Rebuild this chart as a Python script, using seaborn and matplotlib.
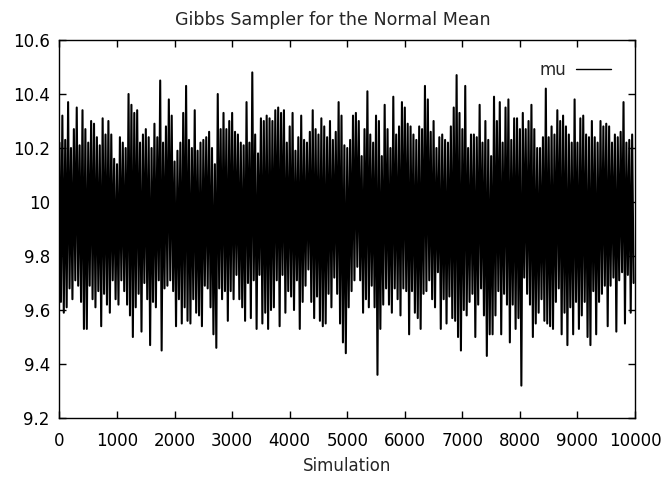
import numpy as np
import pandas as pd
import matplotlib
matplotlib.use("Agg")
import matplotlib.pyplot as plt
import seaborn as sns
from matplotlib.ticker import FormatStrFormatter
from matplotlib.lines import Line2D

# ============================================
# Data: upper and lower swings of the mu trace
# (left to right over 10000 Gibbs iterations, 50 per quarter)
# ============================================

mu_high = [
    # 0 - 2500
    10.22, 10.32, 10.23, 10.37, 10.20, 10.27, 10.35, 10.21, 10.34, 10.27,
    10.22, 10.30, 10.29, 10.24, 10.21, 10.31, 10.25, 10.30, 10.25, 10.16,
    10.14, 10.24, 10.22, 10.20, 10.40, 10.36, 10.33, 10.34, 10.22, 10.25,
    10.27, 10.24, 10.20, 10.29, 10.24, 10.45, 10.22, 10.28, 10.38, 10.32,
    10.15, 10.19, 10.22, 10.33, 10.43, 10.23, 10.20, 10.34, 10.19, 10.22,
    # 2500 - 5000
    10.23, 10.24, 10.26, 10.20, 10.14, 10.40, 10.27, 10.33, 10.27, 10.30,
    10.33, 10.26, 10.25, 10.22, 10.21, 10.37, 10.22, 10.48, 10.25, 10.18,
    10.31, 10.30, 10.32, 10.31, 10.30, 10.34, 10.35, 10.33, 10.34, 10.22,
    10.28, 10.33, 10.19, 10.24, 10.32, 10.23, 10.22, 10.26, 10.34, 10.27,
    10.25, 10.31, 10.28, 10.24, 10.30, 10.23, 10.26, 10.37, 10.32, 10.21,
    # 5000 - 7500
    10.20, 10.23, 10.32, 10.33, 10.30, 10.17, 10.27, 10.41, 10.25, 10.22,
    10.32, 10.30, 10.17, 10.36, 10.27, 10.20, 10.39, 10.25, 10.28, 10.37,
    10.35, 10.29, 10.28, 10.25, 10.23, 10.28, 10.27, 10.43, 10.38, 10.26,
    10.30, 10.20, 10.24, 10.25, 10.23, 10.22, 10.28, 10.35, 10.47, 10.33,
    10.27, 10.43, 10.20, 10.25, 10.25, 10.24, 10.36, 10.22, 10.30, 10.23,
    # 7500 - 10000
    10.17, 10.39, 10.30, 10.37, 10.22, 10.35, 10.38, 10.23, 10.31, 10.31,
    10.27, 10.33, 10.27, 10.30, 10.36, 10.27, 10.20, 10.20, 10.24, 10.42,
    10.24, 10.28, 10.25, 10.34, 10.30, 10.32, 10.28, 10.25, 10.22, 10.38,
    10.22, 10.31, 10.32, 10.25, 10.24, 10.30, 10.24, 10.22, 10.30, 10.28,
    10.29, 10.28, 10.22, 10.25, 10.24, 10.26, 10.37, 10.22, 10.23, 10.25,
]

mu_low = [
    # 0 - 2500
    9.63, 9.59, 9.61, 9.68, 9.64, 9.71, 9.69, 9.63, 9.53, 9.53,
    9.69, 9.64, 9.61, 9.67, 9.54, 9.66, 9.62, 9.59, 9.71, 9.64,
    9.62, 9.71, 9.67, 9.62, 9.58, 9.50, 9.61, 9.66, 9.52, 9.70,
    9.64, 9.47, 9.63, 9.61, 9.71, 9.45, 9.68, 9.69, 9.71, 9.67,
    9.54, 9.64, 9.55, 9.61, 9.56, 9.55, 9.64, 9.59, 9.58, 9.54,
    # 2500 - 5000
    9.69, 9.68, 9.61, 9.51, 9.46, 9.68, 9.64, 9.67, 9.56, 9.67,
    9.64, 9.73, 9.64, 9.61, 9.56, 9.70, 9.57, 9.71, 9.53, 9.73,
    9.55, 9.59, 9.53, 9.60, 9.61, 9.71, 9.54, 9.73, 9.59, 9.67,
    9.65, 9.60, 9.71, 9.53, 9.63, 9.69, 9.75, 9.63, 9.57, 9.65,
    9.56, 9.54, 9.55, 9.66, 9.61, 9.72, 9.66, 9.55, 9.48, 9.44,
    # 5000 - 7500
    9.61, 9.67, 9.71, 9.76, 9.71, 9.59, 9.64, 9.61, 9.69, 9.61,
    9.36, 9.53, 9.62, 9.68, 9.62, 9.59, 9.68, 9.64, 9.58, 9.68,
    9.67, 9.51, 9.67, 9.59, 9.57, 9.53, 9.66, 9.67, 9.71, 9.64,
    9.61, 9.74, 9.53, 9.64, 9.55, 9.65, 9.57, 9.56, 9.50, 9.45,
    9.60, 9.58, 9.63, 9.66, 9.50, 9.62, 9.68, 9.58, 9.43, 9.51,
    # 7500 - 10000
    9.51, 9.58, 9.67, 9.51, 9.66, 9.62, 9.48, 9.62, 9.53, 9.57,
    9.32, 9.72, 9.66, 9.62, 9.50, 9.55, 9.59, 9.64, 9.56, 9.55,
    9.54, 9.53, 9.63, 9.68, 9.51, 9.59, 9.47, 9.61, 9.51, 9.63,
    9.53, 9.58, 9.63, 9.50, 9.47, 9.67, 9.51, 9.63, 9.66, 9.69,
    9.54, 9.69, 9.72, 9.52, 9.71, 9.74, 9.55, 9.73, 9.59, 9.70,
]

y_ticks = [9.2, 9.4, 9.6, 9.8, 10.0, 10.2, 10.4, 10.6]
x_ticks = [0, 1000, 2000, 3000, 4000, 5000, 6000, 7000, 8000, 9000, 10000]

# ============================================
# Build the trace: highs and lows alternate along the iterations
# ============================================

n_iter = 10000
step = n_iter / len(mu_high)
hi = pd.DataFrame({"Simulation": np.arange(len(mu_high)) * step, "mu": mu_high})
lo = pd.DataFrame({"Simulation": (np.arange(len(mu_low)) + 0.5) * step, "mu": mu_low})
df = pd.concat([hi, lo]).sort_values("Simulation").reset_index(drop=True)

# ============================================
# Plot
# ============================================

sns.set_style("ticks")
plt.rcParams["font.family"] = ["DejaVu Sans"]
fs = 12

fig = plt.figure(figsize=(6.66, 4.78), dpi=100)
ax = fig.add_axes([0.0893, 0.1255, 0.8642, 0.7908])

sns.lineplot(data=df, x="Simulation", y="mu", ax=ax, color="black",
             linewidth=1.5, estimator=None, sort=False, legend=False)

ax.set_xlim(0, 10000)
ax.set_ylim(9.2, 10.6)
ax.set_xticks(x_ticks)
ax.set_yticks(y_ticks)
ax.yaxis.set_major_formatter(FormatStrFormatter("%g"))

ax.tick_params(direction="in", top=True, right=True, length=5, width=1,
               labelsize=fs, color="black", labelcolor="black")
ax.tick_params(axis="x", pad=10)
ax.tick_params(axis="y", pad=7)
for s in ax.spines.values():
    s.set_visible(True)
    s.set_linewidth(1)
    s.set_color("black")

ax.set_xlabel("Simulation", fontsize=fs, labelpad=5)
ax.set_ylabel("")
fig.text(333 / 666, 1 - 20 / 478, "Gibbs Sampler for the Normal Mean",
         ha="center", va="center", fontsize=12.6)

handle = Line2D([], [], color="black", linewidth=1)
ax.legend([handle], ["mu"], loc="upper right", frameon=False,
          markerfirst=False, fontsize=fs, handlelength=2.1,
          handletextpad=0.6, bbox_to_anchor=(0.985, 0.985))

fig.savefig("out.png", dpi=100)
